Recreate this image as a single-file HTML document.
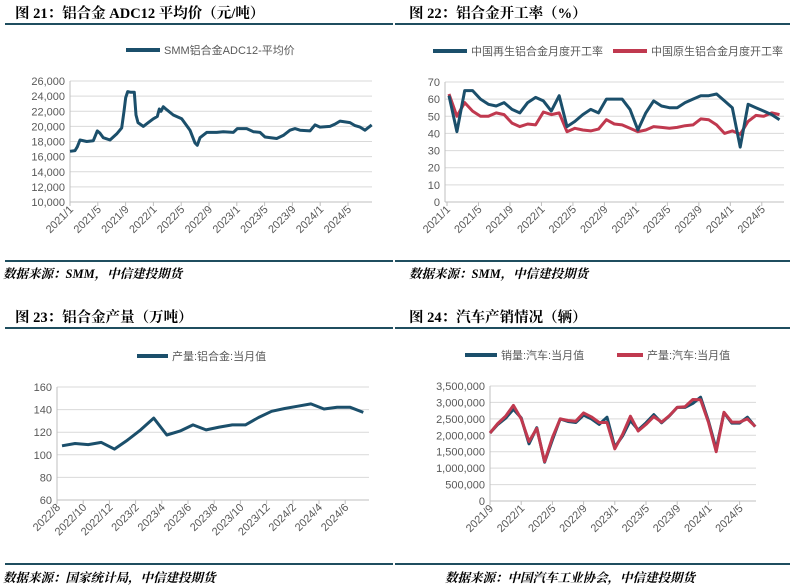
<!DOCTYPE html>
<html><head><meta charset="utf-8"><style>
html,body{margin:0;padding:0;background:#fff;}
svg{display:block;}
.t{font-family:"Liberation Serif","Noto Serif CJK SC",serif;font-weight:bold;font-size:14.5px;fill:#000;}
.s{font-family:"Liberation Serif","Noto Serif CJK SC",serif;font-weight:bold;font-style:italic;font-size:12.5px;fill:#000;}
.l{font-family:"Liberation Sans","Noto Sans CJK SC",sans-serif;font-size:11px;fill:#595959;}
.a{font-family:"Liberation Sans","Noto Sans CJK SC",sans-serif;font-size:11px;fill:#595959;}
</style></head><body>
<svg id="s" width="790" height="586" xmlns="http://www.w3.org/2000/svg"></svg>
<script>
const S=document.getElementById('s');let h='';
const B='#1b4f6b',R='#c0394f',G='#d9d9d9';
function rule(x1,x2,y){h+=`<line x1="${x1}" x2="${x2}" y1="${y}" y2="${y}" stroke="#1f4e5f" stroke-width="2"/>`;}
function txt(x,y,c,t,anchor){h+=`<text x="${x}" y="${y}" class="${c}" ${anchor?'text-anchor="'+anchor+'"':''}>${t}</text>`;}
function grid(x0,x1,y0,y1,n,lab){
 for(let i=0;i<=n;i++){const y=y0+(y1-y0)*i/n;
  h+=`<line x1="${x0}" x2="${x1}" y1="${y}" y2="${y}" stroke="${i==n?'#bfbfbf':G}" stroke-width="1"/>`;
  txt(x0-5,y+4,'a',lab[i],'end');}
 h+=`<line x1="${x0}" x2="${x0}" y1="${y0}" y2="${y1}" stroke="#bfbfbf"/>`;
}
function xl(xs,labs,y){xs.forEach((x,i)=>{h+=`<line x1="${x}" x2="${x}" y1="${y}" y2="${y+4}" stroke="#bfbfbf"/>`;
 h+=`<text class="a" text-anchor="end" transform="translate(${x+4},${y+8}) rotate(-45)">${labs[i]}</text>`;});}
function path(pts,c,w){h+=`<polyline fill="none" stroke="${c}" stroke-width="${w}" stroke-linejoin="round" points="${pts.map(p=>p[0].toFixed(1)+','+p[1].toFixed(1)).join(' ')}"/>`;}
function leg(x1,x2,y,c,t){h+=`<line x1="${x1}" x2="${x2}" y1="${y}" y2="${y}" stroke="${c}" stroke-width="4"/>`;txt(x2+4,y+4,'l',t);}

// Panel 1
txt(15,18,'t','图 21：铝合金 ADC12 平均价（元/吨）');rule(5,393,24);
leg(126,160,50,B,'SMM铝合金ADC12-平均价');
grid(70,372,81,202,8,['26,000','24,000','22,000','20,000','18,000','16,000','14,000','12,000','10,000']);
{let xs=[];const L=['2021/1','2021/5','2021/9','2022/1','2022/5','2022/9','2023/1','2023/5','2023/9','2024/1','2024/5'];
for(let i=0;i<11;i++)xs.push(70+i*27.8);xl(xs,L,202);}
{const d=[[210,16700],[225,16800],[232,17300],[240,18200],[260,18000],[280,18100],[292,19400],[300,19100],[310,18500],[330,18200],[350,19000],[365,19800],[372,22000],[377,23800],[383,24600],[392,24500],[403,24500],[408,21500],[414,20500],[430,20000],[445,20500],[460,21000],[472,21300],[478,22300],[483,22000],[490,22600],[500,22200],[520,21500],[545,21000],[570,19500],[585,17800],[592,17500],[600,18500],[620,19200],[650,19200],[670,19300],[700,19200],[712,19700],[740,19700],[760,19300],[780,19200],[795,18600],[830,18400],[850,18800],[870,19500],[885,19700],[900,19500],[930,19400],[945,20200],[960,19900],[990,20000],[1005,20300],[1020,20700],[1050,20500],[1065,20100],[1080,19900],[1095,19500],[1115,20200]];
path(d.map(p=>[p[0]/3,81+(26000-p[1])/16000*121]),B,3);}
rule(5,393,261);txt(3,278,'s','数据来源：SMM，中信建投期货');

// Panel 2
txt(409,18,'t','图 22：铝合金开工率（%）');rule(395,790,24);
leg(433,467,51,B,'中国再生铝合金月度开工率');leg(613,647,51,R,'中国原生铝合金月度开工率');
grid(445,784,82,202,7,['70','60','50','40','30','20','10','0']);
{let xs=[];const L=['2021/1','2021/5','2021/9','2022/1','2022/5','2022/9','2023/1','2023/5','2023/9','2024/1','2024/5'];
for(let i=0;i<11;i++)xs.push(447+i*4*7.87);xl(xs,L,202);}
{const b=[62,41,65,65,60,57,56,58,54,52,58,61,59,53,62,44,47,51,54,52,60,60,60,54,42,52,59,56,55,55,58,60,62,62,63,59,55,32,57,55,53,51,48];
const r=[63,50,58,53,50,50,52,51,46,44,45.5,45,52.5,51,52,41,43,42,41.5,42.5,48,45.5,45,43,41,42,44,43.5,43,43.5,44.5,45,48.5,48,45,40,41.5,39.5,47,50.5,50,52,51];
const f=a=>a.map((v,i)=>[449+i*7.87,202-v/70*120]);path(f(r),R,3);path(f(b),B,3);}
rule(395,790,261);txt(409,278,'s','数据来源：SMM，中信建投期货');

// Panel 3
txt(15,322,'t','图 23：铝合金产量（万吨）');rule(5,393,328);
leg(137,168,356,B,'产量:铝合金:当月值');
grid(57,369,387,500,5,['160','140','120','100','80','60']);
{let xs=[];const L=['2022/8','2022/10','2022/12','2023/2','2023/4','2023/6','2023/8','2023/10','2023/12','2024/2','2024/4','2024/6'];
for(let i=0;i<12;i++)xs.push(57+i*26.2);xl(xs,L,500);}
{const v=[108,110,109,111,105,113,122,132.5,117.5,121,126.5,122,124.5,126.5,126.5,133,138.5,141,143,145,140.5,142,142,137.5];
path(v.map((a,i)=>[62+i*13.1,500-(a-60)/100*113]),B,3);}
rule(5,393,564);txt(3,582,'s','数据来源：国家统计局，中信建投期货');

// Panel 4
txt(409,322,'t','图 24：汽车产销情况（辆）');rule(395,790,328);
leg(465,497,355,B,'销量:汽车:当月值');leg(617,643,355,R,'产量:汽车:当月值');
grid(490,756,386,501,7,['3,500,000','3,000,000','2,500,000','2,000,000','1,500,000','1,000,000','500,000','0']);
{let xs=[];const L=['2021/9','2022/1','2022/5','2022/9','2023/1','2023/5','2023/9','2024/1','2024/5'];
for(let i=0;i<9;i++)xs.push(490+i*4*7.8);xl(xs,L,501);}
{const sa=[2.07,2.33,2.52,2.79,2.53,1.74,2.23,1.18,1.86,2.5,2.42,2.39,2.61,2.5,2.33,2.55,1.64,1.98,2.45,2.16,2.38,2.63,2.38,2.59,2.85,2.85,2.97,3.16,2.44,1.58,2.69,2.37,2.37,2.55,2.26];
const pr=[2.07,2.36,2.58,2.91,2.5,1.81,2.21,1.2,1.93,2.5,2.45,2.43,2.68,2.56,2.39,2.39,1.59,2.03,2.58,2.13,2.33,2.57,2.4,2.6,2.85,2.87,3.09,3.08,2.4,1.5,2.7,2.4,2.4,2.5,2.27];
const f=a=>a.map((v,i)=>[490+i*7.8,501-v/3.5*115]);path(f(sa),B,3);path(f(pr),R,3);}
rule(395,790,564);txt(445,582,'s','数据来源：中国汽车工业协会，中信建投期货');
S.innerHTML=h;
</script>
</body></html>
